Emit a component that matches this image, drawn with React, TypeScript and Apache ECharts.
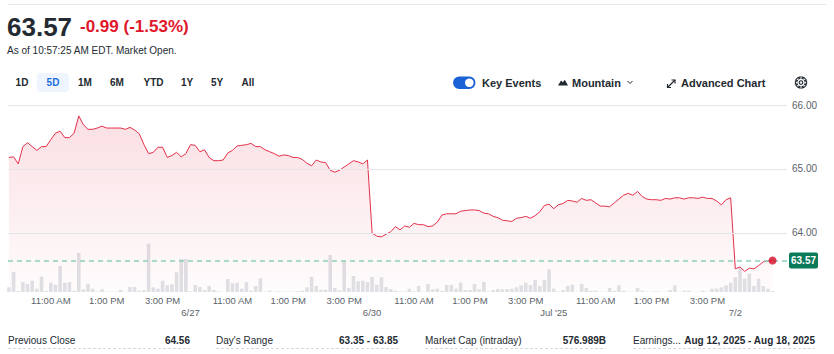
import React, { useEffect, useRef } from "react";
import * as echarts from "echarts";

// ---------- data ----------
const SLOT_MINUTES = 10;
const DAY_MINUTES = 390;

const day1Prices = [65.18, 65.19, 65.08, 65.35, 65.41, 65.35, 65.29, 65.35, 65.35, 65.46, 65.56, 65.59, 65.49, 65.49, 65.56, 65.83, 65.69, 65.62, 65.62, 65.64, 65.67, 65.64, 65.64, 65.64, 65.64, 65.62, 65.65, 65.61, 65.55, 65.38, 65.24, 65.26, 65.34, 65.34, 65.18, 65.21, 65.26, 65.19, 65.24];
const day2Prices = [65.38, 65.37, 65.27, 65.3, 65.18, 65.13, 65.13, 65.14, 65.25, 65.29, 65.36, 65.37, 65.38, 65.4, 65.35, 65.35, 65.3, 65.27, 65.24, 65.2, 65.22, 65.21, 65.18, 65.18, 65.15, 65.09, 65.05, 65.14, 65.11, 65.1, 64.98, 64.95, 64.98, 65.03, 65.08, 65.13, 65.11, 65.08, 65.14];
const day3Prices = [64.0, 63.95, 63.94, 63.98, 64.02, 64.1, 64.05, 64.11, 64.09, 64.15, 64.13, 64.13, 64.1, 64.11, 64.17, 64.28, 64.3, 64.3, 64.3, 64.34, 64.35, 64.36, 64.36, 64.35, 64.31, 64.3, 64.26, 64.24, 64.2, 64.19, 64.18, 64.23, 64.24, 64.26, 64.23, 64.27, 64.33, 64.43, 64.45];
const day4Prices = [64.38, 64.44, 64.46, 64.51, 64.5, 64.48, 64.54, 64.51, 64.52, 64.47, 64.42, 64.42, 64.41, 64.47, 64.53, 64.59, 64.62, 64.59, 64.65, 64.57, 64.53, 64.52, 64.52, 64.51, 64.54, 64.53, 64.55, 64.55, 64.53, 64.55, 64.55, 64.54, 64.56, 64.54, 64.54, 64.5, 64.44, 64.52, 64.55];
const day5Prices = [63.44, 63.47, 63.4, 63.45, 63.44, 63.49, 63.55, 63.56, 63.57];

// volume in thousands of shares per 10-minute slot
const day1Volume = [94, 400, 20, 200, 160, 226, 66, 306, 26, 186, 146, 520, 186, 200, 26, 780, 54, 166, 66, 10, 54, 6, 6, 6, 40, 6, 100, 100, 26, 40, 966, 94, 66, 226, 134, 154, 394, 660, 660];
const day2Volume = [14, 140, 100, 40, 120, 40, 14, 6, 260, 174, 186, 66, 200, 26, 120, 274, 6, 26, 6, 14, 6, 6, 10, 14, 26, 94, 306, 120, 46, 46, 740, 80, 34, 626, 80, 320, 214, 226, 200];
const day3Volume = [300, 146, 294, 100, 60, 26, 10, 10, 66, 14, 120, 10, 160, 54, 66, 26, 140, 140, 66, 186, 40, 40, 160, 54, 200, 10, 40, 60, 54, 60, 66, 94, 134, 186, 140, 240, 120, 240, 454];
const day4Volume = [66, 10, 40, 120, 146, 6, 160, 80, 26, 26, 6, 6, 80, 26, 134, 26, 6, 6, 80, 26, 6, 6, 14, 6, 6, 40, 134, 6, 26, 26, 6, 6, 26, 6, 66, 66, 94, 134, 186];
const day5Volume = [294, 486, 266, 366, 120, 266, 120, 66, 20];

const timeTickMinutes = [90, 210, 330];
const timeTickLabels = ["11:00 AM", "1:00 PM", "3:00 PM"];
const dayLabels = ["6/27", "6/30", "Jul '25", "7/2"];
const priceTicks = [64, 65, 66];
const lastPrice = 63.57;

const headerPrice = "63.57";
const headerChange = "-0.99 (-1.53%)";
const headerNote = "As of 10:57:25 AM EDT. Market Open.";
const rangeButtons = ["1D", "5D", "1M", "6M", "YTD", "1Y", "5Y", "All"];
const statLabels = ["Previous Close", "Day's Range", "Market Cap (intraday)", "Earnings..."];
const statValues = ["64.56", "63.35 - 63.85", "576.989B", "Aug 12, 2025 - Aug 18, 2025"];

// ---------- styling / layout ----------
const FONT = "'Liberation Sans', Arial, Helvetica, sans-serif";
const TEXT = "#232a31";
const AXIS_TEXT = "#5b636a";
const RED = "#e2304a";

const txt = (x: number, y: number, text: string, font: string, fill: string, align = "left") => ({
  type: "text",
  x,
  y,
  silent: true,
  style: { text, font, fill, align, verticalAlign: "middle", textAlign: align, textVerticalAlign: "middle" },
});

export default function App() {
  const ref = useRef<HTMLDivElement>(null);

  useEffect(() => {
    if (!ref.current) return;
    const chart = echarts.init(ref.current, null, { renderer: "svg" });

    const days = [day1Prices, day2Prices, day3Prices, day4Prices, day5Prices];
    const vols = [day1Volume, day2Volume, day3Volume, day4Volume, day5Volume];
    const priceData: number[][] = [];
    days.forEach((arr, d) => arr.forEach((v, k) => priceData.push([d * DAY_MINUTES + k * SLOT_MINUTES, v])));
    const volumeData: number[][] = [];
    vols.forEach((arr, d) => arr.forEach((v, k) => volumeData.push([d * DAY_MINUTES + k * SLOT_MINUTES, v])));
    const last = priceData[priceData.length - 1];

    const timeTicks: number[] = [];
    const timeLabelMap: Record<number, string> = {};
    for (let d = 0; d < 4; d++) {
      timeTickMinutes.forEach((m, i) => {
        const v = d * DAY_MINUTES + m;
        timeTicks.push(v);
        timeLabelMap[v] = timeTickLabels[i];
      });
    }
    const dayTicks = dayLabels.map((_, i) => (i + 1) * DAY_MINUTES);
    const dayLabelMap: Record<number, string> = {};
    dayTicks.forEach((v, i) => (dayLabelMap[v] = dayLabels[i]));

    const X_MIN = -2;
    const X_MAX = 1671;

    // header / toolbar / footer graphics
    const graphics: any[] = [];
    graphics.push({ type: "line", silent: true, shape: { x1: 8, y1: 4.5, x2: 826, y2: 4.5 }, style: { stroke: "#e3e6ea", lineWidth: 1 } });
    graphics.push(txt(7, 26.5, headerPrice, `bold 26px ${FONT}`, TEXT));
    graphics.push(txt(80, 26.5, headerChange, `bold 17px ${FONT}`, "#e0162b"));
    graphics.push(txt(7, 50, headerNote, `10px ${FONT}`, TEXT));

    const btnCenters = [22, 53, 85, 117, 153.5, 187, 217, 248];
    graphics.push({ type: "rect", silent: true, shape: { x: 37, y: 73, width: 32, height: 19, r: 4 }, style: { fill: "#eef5ff" } });
    rangeButtons.forEach((b, i) => {
      graphics.push(txt(btnCenters[i], 82.5, b, `bold 10px ${FONT}`, b === "5D" ? "#1d6fe0" : TEXT, "center"));
    });

    // toggle
    graphics.push({ type: "rect", silent: true, shape: { x: 453, y: 76.5, width: 22.5, height: 12.5, r: 6.25 }, style: { fill: "#1a62d6" } });
    graphics.push({ type: "circle", silent: true, shape: { cx: 469.3, cy: 82.75, r: 4.3 }, style: { fill: "#ffffff" } });
    graphics.push(txt(482, 82.5, "Key Events", `bold 11px ${FONT}`, TEXT));
    // mountain icon
    graphics.push({ type: "polygon", silent: true, shape: { points: [[558, 85.5], [561, 80.5], [562.8, 82.3], [564.8, 79.8], [568, 85.5]] }, style: { fill: TEXT } });
    graphics.push(txt(572, 82.5, "Mountain", `bold 11px ${FONT}`, TEXT));
    graphics.push({ type: "polyline", silent: true, shape: { points: [[627.5, 81], [630, 83.5], [632.5, 81]] }, style: { stroke: TEXT, lineWidth: 1, fill: null } });
    // expand icon
    graphics.push({ type: "line", silent: true, shape: { x1: 667.5, y1: 87.5, x2: 675, y2: 80 }, style: { stroke: TEXT, lineWidth: 1.2 } });
    graphics.push({ type: "polyline", silent: true, shape: { points: [[667.5, 84], [667.5, 87.5], [671, 87.5]] }, style: { stroke: TEXT, lineWidth: 1.2, fill: null } });
    graphics.push({ type: "polyline", silent: true, shape: { points: [[671.5, 80], [675, 80], [675, 83.5]] }, style: { stroke: TEXT, lineWidth: 1.2, fill: null } });
    graphics.push(txt(681, 82.5, "Advanced Chart", `bold 11px ${FONT}`, TEXT));
    // gear icon
    const gear: number[][] = [];
    const gcx = 801, gcy = 82.5;
    for (let i = 0; i < 8; i++) {
      const a = (i * Math.PI) / 4;
      const w = 0.28;
      gear.push([gcx + 4.2 * Math.cos(a - 0.5), gcy + 4.2 * Math.sin(a - 0.5)]);
      gear.push([gcx + 5.8 * Math.cos(a - w), gcy + 5.8 * Math.sin(a - w)]);
      gear.push([gcx + 5.8 * Math.cos(a + w), gcy + 5.8 * Math.sin(a + w)]);
      gear.push([gcx + 4.2 * Math.cos(a + 0.5), gcy + 4.2 * Math.sin(a + 0.5)]);
    }
    graphics.push({ type: "polygon", silent: true, shape: { points: gear }, style: { fill: "none", stroke: TEXT, lineWidth: 1.1 } });
    graphics.push({ type: "circle", silent: true, shape: { cx: gcx, cy: gcy, r: 1.8 }, style: { fill: "none", stroke: TEXT, lineWidth: 1.1 } });

    // footer stats
    const statLeft = [8, 216, 425, 633];
    const statRight = [190, 398, 606, 815];
    statLabels.forEach((l, i) => {
      graphics.push(txt(statLeft[i], 340.5, l, `10px ${FONT}`, TEXT));
      graphics.push(txt(statRight[i], 340.5, statValues[i], `bold 10px ${FONT}`, TEXT, "right"));
      graphics.push({
        type: "line",
        silent: true,
        shape: { x1: statLeft[i], y1: 348.5, x2: statRight[i], y2: 348.5 },
        style: { stroke: "#d5d8dc", lineWidth: 1, lineDash: [3, 2] },
      });
    });

    const option: any = {
      animation: false,
      backgroundColor: "#ffffff",
      textStyle: { fontFamily: FONT },
      grid: [
        { left: 8, right: 47, top: 105, bottom: 62 },
        { left: 8, right: 47, top: 232, bottom: 62 },
      ],
      xAxis: [
        {
          gridIndex: 0,
          type: "value",
          min: X_MIN,
          max: X_MAX,
          axisLine: { show: false },
          axisTick: { show: false },
          splitLine: { show: false },
          axisLabel: {
            customValues: timeTicks,
            formatter: (v: number) => timeLabelMap[v] ?? "",
            color: AXIS_TEXT,
            fontSize: 9.5,
            fontFamily: FONT,
            margin: 3,
          },
        },
        {
          gridIndex: 0,
          type: "value",
          position: "bottom",
          offset: 12,
          min: X_MIN,
          max: X_MAX,
          axisLine: { show: false },
          axisTick: { show: false },
          splitLine: { show: false },
          axisLabel: {
            customValues: dayTicks,
            formatter: (v: number) => dayLabelMap[v] ?? "",
            color: AXIS_TEXT,
            fontSize: 9.5,
            fontFamily: FONT,
            margin: 3,
          },
        },
        { gridIndex: 1, type: "value", min: X_MIN, max: X_MAX, show: false },
      ],
      yAxis: [
        {
          gridIndex: 0,
          type: "value",
          position: "right",
          min: 63.078,
          max: 66,
          axisLine: { show: false },
          axisTick: { show: false },
          splitLine: { show: false },
          axisLabel: {
            customValues: priceTicks,
            formatter: (v: number) => v.toFixed(2),
            color: AXIS_TEXT,
            fontSize: 10,
            fontFamily: FONT,
            margin: 5,
          },
        },
        { gridIndex: 1, type: "value", min: 0, max: 1200, show: false },
      ],
      series: [
        {
          type: "bar",
          xAxisIndex: 2,
          yAxisIndex: 1,
          data: volumeData,
          barWidth: 3.6,
          silent: true,
          z: 1,
          itemStyle: { color: "#dfe2e6" },
        },
        {
          type: "line",
          xAxisIndex: 0,
          yAxisIndex: 0,
          data: priceData,
          showSymbol: false,
          silent: true,
          z: 2,
          lineStyle: { color: RED, width: 1 },
          areaStyle: {
            origin: "start",
            color: new echarts.graphic.LinearGradient(0, 0, 0, 1, [
              { offset: 0, color: "rgba(226,48,74,0.22)" },
              { offset: 1, color: "rgba(226,48,74,0.02)" },
            ]),
          },
          markLine: {
            silent: true,
            symbol: ["none", "none"],
            data: [
              ...priceTicks.map((v) => ({ yAxis: v, lineStyle: { color: "#e4e6e9", width: 1, type: "solid" }, label: { show: false } })),
              {
                yAxis: lastPrice,
                lineStyle: { color: "#8fd0b6", width: 1.5, type: [5, 4] },
                label: {
                  show: true,
                  position: "end",
                  distance: 2,
                  formatter: lastPrice.toFixed(2),
                  backgroundColor: "#0b7a5b",
                  color: "#ffffff",
                  fontSize: 10,
                  fontWeight: "bold",
                  fontFamily: FONT,
                  padding: [3, 2, 3, 2],
                  borderRadius: 2,
                },
              },
            ],
          },
        },
        {
          type: "scatter",
          xAxisIndex: 0,
          yAxisIndex: 0,
          data: [last],
          symbolSize: 8,
          silent: true,
          z: 5,
          itemStyle: { color: "#d70c26" },
        },
      ],
      graphic: graphics,
    };

    chart.setOption(option);
    return () => chart.dispose();
  }, []);

  return <div ref={ref} style={{ position: "absolute", left: 0, top: 0, width: 834, height: 354, background: "#fff" }} />;
}
